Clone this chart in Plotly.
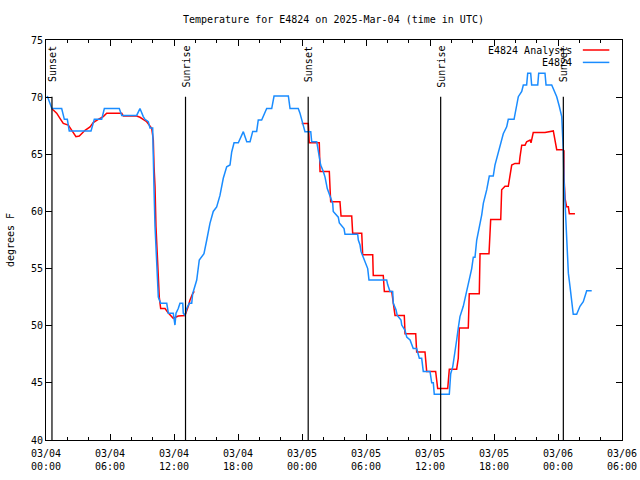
import pandas as pd
import plotly.graph_objects as go

TITLE = "Temperature for E4824 on 2025-Mar-04 (time in UTC)"
START = "2025-03-04 00:00"
END = "2025-03-06 06:00"

# Hours since 2025-03-04 00:00 UTC, temperatures in degrees F
station_hours = [0.12, 0.35, 0.55, 1.47, 1.72, 2.00, 2.18, 4.22, 4.53, 5.22, 5.47, 6.87, 7.10, 8.50,
                 8.81, 9.12, 9.28, 9.59, 9.75, 10.00, 10.03, 10.12, 10.22, 10.31, 10.44, 10.53, 10.75,
                 11.32, 11.47, 11.93, 12.09, 12.19, 12.40, 12.56, 12.82, 12.87, 13.03, 13.19, 13.43,
                 13.66, 13.75, 13.97, 14.13, 14.37, 14.60, 14.81, 15.07, 15.37, 15.68, 16.00, 16.31,
                 16.62, 16.94, 17.25, 17.41, 17.63, 18.03, 18.25, 18.50, 18.82, 19.13, 19.38, 19.75,
                 19.90, 20.22, 20.69, 21.16, 21.38, 22.72, 22.88, 23.65, 23.81, 23.97, 24.12, 24.28,
                 24.82, 24.91, 25.38, 25.53, 25.75, 26.00, 26.16, 26.37, 26.63, 26.88, 26.93, 27.40,
                 27.50, 27.94, 28.03, 29.22, 29.28, 29.44, 29.53, 29.75, 29.91, 30.16, 30.28, 31.94,
                 32.03, 32.25, 32.50, 32.56, 32.81, 32.93, 33.28, 33.35, 33.66, 33.82, 34.13, 34.43,
                 34.75, 35.00, 35.22, 35.37, 36.00, 36.16, 36.31, 36.40, 37.81, 37.94, 38.13, 38.34,
                 38.50, 38.65, 38.81, 39.12, 39.44, 39.68, 39.91, 40.06, 40.22, 40.38, 40.62, 40.85,
                 41.00, 41.32, 41.56, 41.93, 42.09, 42.40, 42.63, 42.87, 43.19, 43.34, 43.88, 44.06,
                 44.28, 44.60, 44.75, 45.06, 45.16, 45.44, 45.53, 46.10, 46.19, 46.78, 46.88, 47.41,
                 47.63, 47.88, 48.12, 48.35, 48.44, 48.50, 48.56, 48.66, 48.81, 48.97, 49.13, 49.28,
                 49.43, 49.75, 50.06, 50.37, 50.53, 50.69, 51.16]
station_temps = [70.1, 69.6, 69.0, 69.0, 68.06, 68.06, 67.04, 67.04, 68.06, 68.06, 69.0, 69.0, 68.4, 68.4,
                 69.0, 68.3, 68.06, 67.85, 67.3, 67.3, 65.4, 62.2, 58.7, 56.5, 53.7, 52.5, 51.96,
                 51.96, 51.1, 51.1, 50.06, 51.1, 51.5, 51.96, 51.96, 51.1, 50.9, 51.5, 51.96,
                 51.96, 52.8, 53.4, 54.0, 55.75, 56.0, 56.3, 57.5, 58.96, 60.0, 60.4, 61.4,
                 62.9, 63.9, 64.06, 65.2, 66.0, 66.0, 66.5, 66.98, 66.1, 66.1, 67.0, 67.0,
                 68.0, 68.0, 69.0, 69.0, 70.1, 70.1, 69.0, 69.0, 68.6, 68.0, 67.7, 66.98,
                 66.98, 66.1, 66.1, 65.1, 64.06, 63.5, 63.0, 62.0, 61.3, 60.7, 60.0, 59.5,
                 59.0, 58.5, 58.0, 58.0, 57.5, 57.06, 56.5, 56.0, 55.5, 55.0, 54.0, 54.0,
                 53.6, 53.0, 53.0, 51.96, 51.4, 50.9, 50.5, 50.06, 49.6, 49.0, 48.75, 48.0,
                 48.0, 47.15, 47.15, 46.0, 46.0, 45.0, 45.0, 44.0, 44.0, 45.8, 46.4, 47.6,
                 48.75, 49.8, 50.8, 51.7, 53.1, 54.15, 55.0, 56.0, 56.0, 57.5, 58.5, 59.7,
                 60.7, 61.9, 63.1, 63.1, 64.06, 65.1, 65.96, 66.8, 67.4, 68.06, 68.06, 69.0,
                 70.04, 70.5, 71.06, 71.06, 72.1, 72.1, 71.06, 71.06, 72.1, 72.1, 71.06, 71.06,
                 70.6, 70.04, 69.2, 68.3, 66.5, 65.4, 62.75, 61.0, 58.4, 54.6, 53.4, 52.25,
                 51.0, 51.0, 51.7, 52.1, 52.7, 53.06, 53.06]

analysis_hours = [0.53, 1.00, 1.31, 1.62, 2.09, 2.56, 2.81, 3.12, 3.66, 4.13, 4.43, 4.90, 5.37, 5.69,
                  7.10, 7.25, 8.50, 8.81, 9.44, 9.91, 10.06, 10.13, 10.22, 10.31, 10.43, 10.53, 10.62,
                  10.75, 11.16, 11.47, 11.93, 12.40, 13.03, 13.34, 13.50, 13.75, 13.90,
                  18.00,
                  23.97, 24.59, 24.68, 25.62, 25.69, 26.56, 26.63, 26.69, 27.56, 27.66, 28.66, 28.75,
                  29.60, 29.69, 30.63, 30.68, 31.62, 31.72, 32.41, 32.50, 32.72, 33.59, 33.66, 34.66,
                  34.75, 35.53, 35.69, 36.53, 36.63, 36.72, 37.66, 37.81, 38.50, 38.65, 38.75, 39.59,
                  39.68, 40.62, 40.69, 41.53, 41.69, 42.63, 42.72, 43.03, 43.34, 43.66, 43.97, 44.37,
                  44.44, 44.60, 44.91, 45.06, 45.38, 45.47, 45.68, 46.78, 47.56, 47.72, 47.88, 48.44,
                  48.56, 48.57, 48.66, 48.81, 48.97, 49.06, 49.59]
analysis_temps = [69.0, 68.6, 68.15, 67.7, 67.56, 66.84, 66.54, 66.6, 67.1, 67.4, 67.77, 68.06, 68.3, 68.6,
                  68.6, 68.35, 68.35, 68.24, 67.85, 67.27, 66.25, 63.9, 62.2, 58.7, 56.5, 54.3, 52.5,
                  51.5, 51.5, 51.1, 50.65, 50.85, 50.9, 51.7, 52.25, 52.8, 53.0,
                  None,
                  67.7, 67.7, 66.0, 66.0, 63.5, 63.5, 62.0, 60.85, 60.85, 59.6, 59.6, 58.1,
                  58.1, 56.2, 56.2, 54.4, 54.4, 53.0, 53.0, 52.25, 50.9, 50.9, 49.3, 49.3,
                  47.7, 47.7, 46.0, 46.0, 45.2, 44.5, 44.5, 46.2, 46.2, 47.15, 49.8, 49.8,
                  52.8, 52.8, 56.3, 56.3, 59.3, 59.3, 61.9, 62.2, 62.2, 64.06, 64.2, 64.2,
                  64.8, 65.8, 65.8, 66.1, 66.25, 66.0, 66.9, 66.9, 67.04, 66.1, 65.4, 65.4,
                  65.3, 62.9, 61.15, 60.4, 60.4, 59.8, 59.8]

sun_hours = [0.56, 13.08, 24.58, 37.0, 48.5]
sun_labels = ["Sunset", "Sunrise", "Sunset", "Sunrise", "Sunset"]

legend_names = ["E4824 Analysis", "E4824"]
RED = "#ff0000"
BLUE = "#1a8cff"
FONT = "DejaVu Sans Mono"

base = pd.Timestamp(START)
def to_time(hours):
    return [base + pd.Timedelta(hours=h) for h in hours]

fig = go.Figure()
fig.add_trace(go.Scatter(x=to_time(analysis_hours), y=analysis_temps, mode="lines",
                         line=dict(color=RED, width=1.5), name=legend_names[0],
                         connectgaps=False, showlegend=False))
fig.add_trace(go.Scatter(x=to_time(station_hours), y=station_temps, mode="lines",
                         line=dict(color=BLUE, width=1.5), name=legend_names[1],
                         showlegend=False))

for t, lab in zip(to_time(sun_hours), sun_labels):
    fig.add_shape(type="line", xref="x", yref="paper", x0=t, x1=t, y0=0, y1=0.858,
                  line=dict(color="black", width=1.2))
    fig.add_annotation(x=t, y=0.99, xref="x", yref="paper", text=lab, textangle=-90,
                       showarrow=False, xanchor="center", yanchor="top",
                       font=dict(family=FONT, size=10, color="black"))

# custom legend (text right-aligned, sample line to the right)
for i, (name, col) in enumerate(zip(legend_names, [RED, BLUE])):
    yy = 0.975 - i * 0.031
    fig.add_annotation(x=0.9167, y=yy, xref="paper", yref="paper", text=name,
                       showarrow=False, xanchor="right", yanchor="middle",
                       font=dict(family=FONT, size=10, color="black"))
    fig.add_shape(type="line", xref="paper", yref="paper", x0=0.932, x1=0.978, y0=yy, y1=yy,
                  line=dict(color=col, width=1.5))

fig.update_layout(
    width=640, height=480,
    margin=dict(l=46, r=18, t=40, b=40, autoexpand=False),
    paper_bgcolor="white", plot_bgcolor="white",
    font=dict(family=FONT, size=10, color="black"),
    title=dict(text=TITLE, xref="container", yref="container", x=0.521, xanchor="center",
               y=0.96, yanchor="middle", font=dict(family=FONT, size=10)),
    showlegend=False,
)
fig.update_xaxes(
    type="date", range=[pd.Timestamp(START), pd.Timestamp(END)], automargin=False,
    dtick=6 * 3600 * 1000, tick0=START, tickformat="%m/%d<br>%H:%M",
    ticks="inside", ticklen=6, tickcolor="black", showline=True, linecolor="black",
    linewidth=1, mirror="allticks", showgrid=False, zeroline=False, ticklabelstandoff=4,
    minor=dict(dtick=2 * 3600 * 1000, ticks="inside", ticklen=3, tickcolor="black", showgrid=False),
    tickfont=dict(family=FONT, size=10),
)
fig.update_yaxes(
    range=[40, 75], dtick=5, ticks="inside", ticklen=6, tickcolor="black", automargin=False,
    showline=True, linecolor="black", linewidth=1, mirror="allticks",
    showgrid=False, zeroline=False,
    title=dict(text="degrees F", font=dict(family=FONT, size=10), standoff=14),
    tickfont=dict(family=FONT, size=10),
)

fig.write_html("out.html", config={"displayModeBar": False},
               post_script="document.body.style.margin='0';document.body.style.overflow='hidden';")
